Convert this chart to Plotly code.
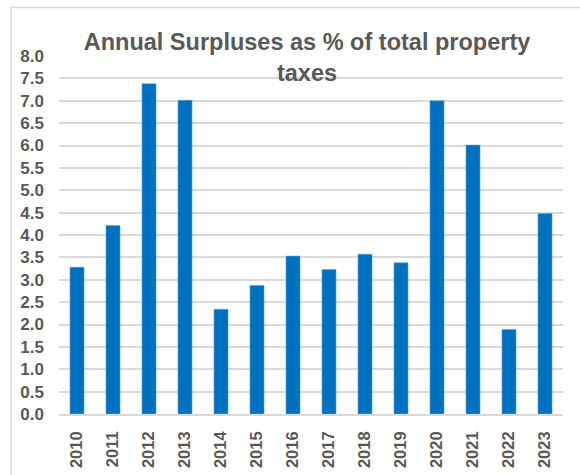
import plotly.graph_objects as go

years = ["2010", "2011", "2012", "2013", "2014", "2015", "2016",
         "2017", "2018", "2019", "2020", "2021", "2022", "2023"]
surplus_pct = [3.28, 4.21, 7.38, 7.01, 2.34, 2.87, 3.53,
               3.23, 3.57, 3.38, 7.00, 6.01, 1.89, 4.48]
y_ticks = [0, 0.5, 1, 1.5, 2, 2.5, 3, 3.5, 4, 4.5, 5, 5.5, 6, 6.5, 7, 7.5, 8]
title_text = "Annual Surpluses as % of total property<br>taxes"

W, H = 580, 475
L, R, T, B = 59, 17, 56, 61
pw, ph = W - L - R, H - T - B

def px_x(p):
    return (p - L) / pw

def px_y(p):
    return (H - B - p) / ph

FONT = "Liberation Sans"
GRAY = "#595959"

fig = go.Figure(go.Bar(
    x=years, y=surplus_pct,
    marker=dict(color="#0070C0", line=dict(color="#5BA3DA", width=0.6)),
))

fig.update_layout(
    width=W, height=H,
    margin=dict(l=L, r=R, t=T, b=B, autoexpand=False),
    paper_bgcolor="white", plot_bgcolor="white",
    bargap=0.61,
    showlegend=False,
    title=dict(
        text=title_text,
        font=dict(family=FONT, size=23.5, color=GRAY, weight="bold"),
        x=307 / W, xanchor="center", xref="container",
        y=1 - 50 / H, yanchor="top", yref="container",
    ),
    xaxis=dict(
        type="category",
        tickangle=-90,
        tickfont=dict(family=FONT, size=16.5, color=GRAY, weight="bold"),
        showgrid=False,
        showline=True, linecolor="#D9D9D9", linewidth=1.5,
        ticks="", ticklabelstandoff=9,
    ),
    yaxis=dict(
        range=[0, 8],
        tickvals=y_ticks,
        ticktext=[f"{v:.1f}" for v in y_ticks],
        tickfont=dict(family=FONT, size=17, color=GRAY, weight="bold"),
        showgrid=True, gridcolor="#D9D9D9", gridwidth=1.5,
        zeroline=False, showline=False,
        ticks="", ticklabelstandoff=14,
    ),
    shapes=[dict(
        type="rect", xref="paper", yref="paper",
        x0=px_x(11), x1=px_x(620), y0=px_y(520), y1=px_y(7.5),
        line=dict(color="#D9D9D9", width=1.5), fillcolor="rgba(0,0,0,0)",
        layer="below",
    )],
)

fig.write_html("out.html")
